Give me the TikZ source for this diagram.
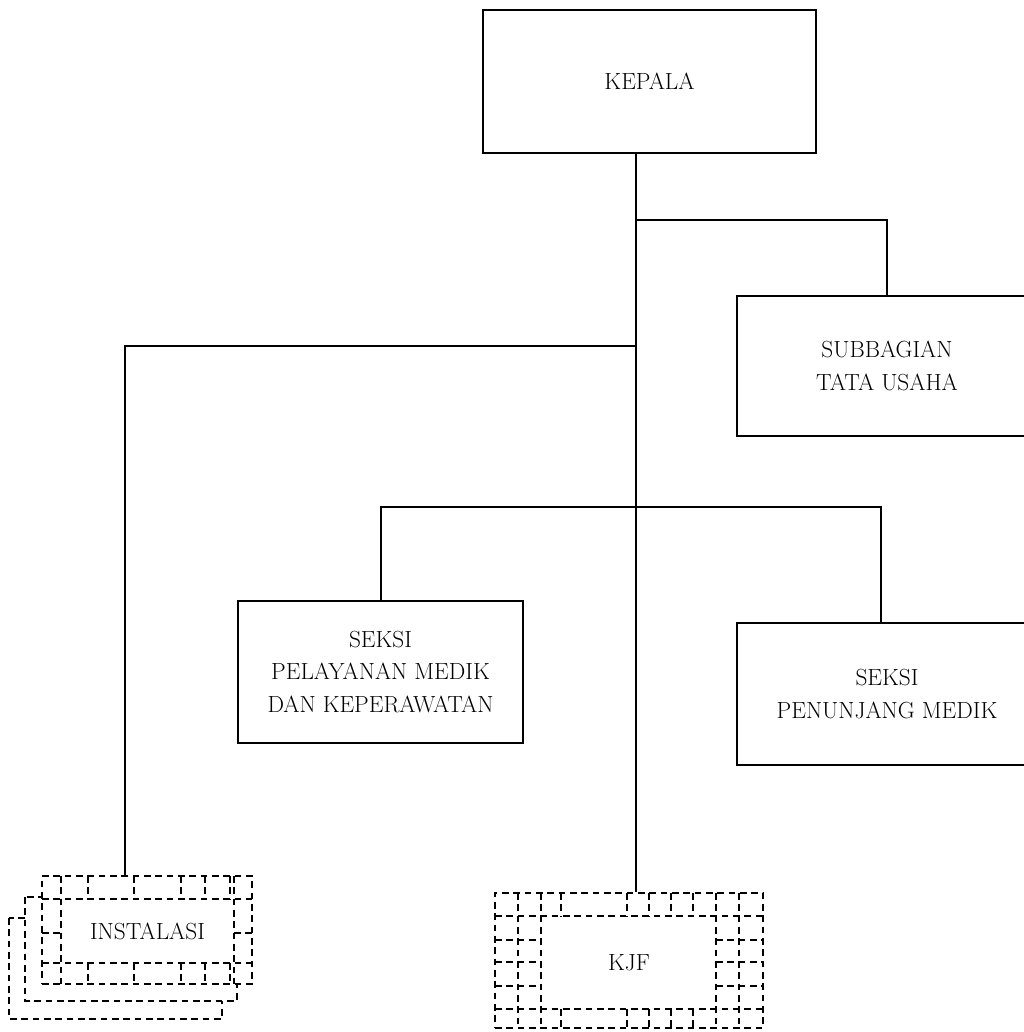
\documentclass[tikz,border=0pt]{standalone}
\begin{document}
\begin{tikzpicture}[x=0.75pt,y=-0.75pt,
  box/.style={draw,line width=1.5pt,fill=white,align=center,inner sep=0pt,
    font=\fontsize{17.5}{24.5}\selectfont},
  conn/.style={line width=1.5pt},
  dline/.style={line width=1pt,dash pattern=on 5pt off 3.5pt},
  dbox/.style={draw,line width=1pt,dash pattern=on 5pt off 3.5pt,fill=white},
  lbl/.style={font=\fontsize{17.5}{24.5}\selectfont,inner sep=0pt}]
\useasboundingbox (0,0) rectangle (1024,1032);
\clip (0,0) rectangle (1024,1032);

% junctions
\coordinate (j1) at (636,220);
\coordinate (j2) at (636,346);
\coordinate (jl) at (125,346);
\coordinate (j3) at (636,507);
\coordinate (jr) at (881,507);

% main boxes
\node[box,minimum width=333*0.75pt,minimum height=143*0.75pt] (kepala) at (649.5,81.5) {KEPALA};
\node[box,minimum width=300*0.75pt,minimum height=140*0.75pt] (tu) at (887,366) {SUBBAGIAN\\TATA USAHA};
\node[box,minimum width=285*0.75pt,minimum height=142*0.75pt] (pel) at (380.5,672) {SEKSI\\PELAYANAN MEDIK\\DAN KEPERAWATAN};
\node[box,minimum width=300*0.75pt,minimum height=142*0.75pt] (pen) at (887,694) {SEKSI\\PENUNJANG MEDIK};

% INSTALASI stacked dashed boxes
\draw[dbox] (9,918) rectangle (222,1019);
\draw[dbox] (25,897) rectangle (237,1001);
\node[dbox,minimum width=210*0.75pt,minimum height=108*0.75pt,inner sep=0pt] (inst) at (147,930) {};
\draw[dline] (42,899) -- (252,899);
\draw[dline] (42,963) -- (252,963);
\draw[dline] (61,876) -- (61,984);
\draw[dline] (234,876) -- (234,984);
\foreach \x in {88,134,181,205,230} {
  \draw[dline] (\x,876) -- (\x,899);
  \draw[dline] (\x,963) -- (\x,984);
}
\draw[dline] (42,933) -- (61,933);
\draw[dline] (234,933) -- (252,933);
\node[lbl] (instl) at (147.5,931) {INSTALASI};

% KJF dashed frame
\node[dbox,minimum width=268*0.75pt,minimum height=135*0.75pt,inner sep=0pt] (kjf) at (629,960.5) {};
\draw[dline] (495,916) -- (763,916);
\draw[dline] (495,1009) -- (763,1009);
\foreach \x in {518,541,716,739} {
  \draw[dline] (\x,893) -- (\x,1028);
}
\foreach \x in {561,627,649,671,693} {
  \draw[dline] (\x,893) -- (\x,916);
  \draw[dline] (\x,1009) -- (\x,1028);
}
\foreach \y in {940,962,986} {
  \draw[dline] (495,\y) -- (541,\y);
  \draw[dline] (716,\y) -- (763,\y);
}
\node[lbl] (kjfl) at (629,963) {KJF};

% connectors
\draw[conn] (kepala.south -| j1) -- (j1 |- kjf.north);
\draw[conn] (j1) -| (tu.north);
\draw[conn] (j2) -- (jl) -- (jl |- inst.north);
\draw[conn] (pel.north) |- (jr) -- (jr |- pen.north);
\end{tikzpicture}
\end{document}
